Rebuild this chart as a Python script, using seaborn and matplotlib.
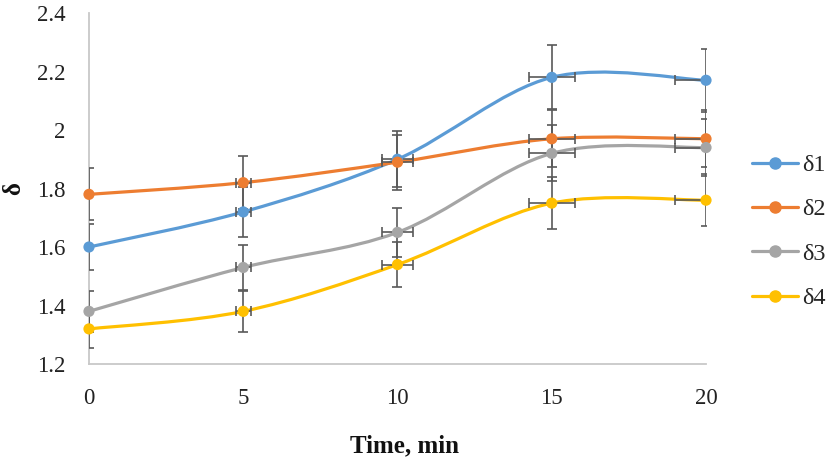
import numpy as np
import pandas as pd
import seaborn as sns
import matplotlib.pyplot as plt
from matplotlib.path import Path
from matplotlib.patches import PathPatch
from matplotlib.lines import Line2D

time_min = [0, 5, 10, 15, 20]
series_names = ['δ1', 'δ2', 'δ3', 'δ4']
d1 = [1.60, 1.72, 1.90, 2.18, 2.17]
d2 = [1.78, 1.82, 1.89, 1.97, 1.97]
d3 = [1.38, 1.53, 1.65, 1.92, 1.94]
d4 = [1.32, 1.38, 1.54, 1.75, 1.76]
d1_err = [0.08, 0.086, 0.095, 0.109, 0.108]
d2_err = [0.089, 0.091, 0.094, 0.098, 0.098]
d3_err = [0.069, 0.077, 0.083, 0.096, 0.097]
d4_err = [0.066, 0.069, 0.077, 0.088, 0.088]
time_err = [0, 0.25, 0.5, 0.75, 1.0]

colors = ['#5B9BD5', '#ED7D31', '#A5A5A5', '#FFC000']


def smooth_path(xs, ys):
    # excel-style smoothed line: cubic bezier segments through the points
    pts = np.column_stack([xs, ys]).astype(float)
    n = len(pts)
    verts = [pts[0]]
    codes = [Path.MOVETO]
    for i in range(n - 1):
        p_prev = pts[i - 1] if i > 0 else pts[i]
        p_next = pts[i + 2] if i + 2 < n else pts[i + 1]
        c1 = pts[i] + (pts[i + 1] - p_prev) / 6
        c2 = pts[i + 1] - (p_next - pts[i]) / 6
        verts += [c1, c2, pts[i + 1]]
        codes += [Path.CURVE4] * 3
    return Path(verts, codes)


sns.set_theme(style='white')
plt.rcParams['font.family'] = ['Liberation Serif', 'DejaVu Serif']

df = pd.DataFrame({
    'Time': time_min * 4,
    'value': d1 + d2 + d3 + d4,
    'series': [s for s in series_names for _ in time_min],
})

fig = plt.figure(figsize=(8.27, 4.61), dpi=100)
ax = fig.add_axes([0.1076, 0.2104, 0.7461, 0.7614])

values = [d1, d2, d3, d4]
errs = [d1_err, d2_err, d3_err, d4_err]
for vals, err, col in zip(values, errs, colors):
    ax.add_patch(PathPatch(smooth_path(time_min, vals), fill=False,
                           edgecolor=col, lw=2.3, zorder=2, capstyle='round'))
    ax.errorbar(time_min, vals, yerr=err, xerr=time_err, fmt='none',
                ecolor='#595959', elinewidth=1.2, capsize=3.5, capthick=1.2,
                zorder=3)

sns.scatterplot(data=df, x='Time', y='value', hue='series', palette=colors,
                s=65, edgecolor='none', legend=False, ax=ax, zorder=4,
                clip_on=False)

ax.set_xlim(0, 20)
ax.set_ylim(1.2, 2.4)
ax.set_xticks([0, 5, 10, 15, 20])
ax.set_yticks([1.2, 1.4, 1.6, 1.8, 2.0, 2.2, 2.4])
ax.set_yticklabels(['1.2', '1.4', '1.6', '1.8', '2', '2.2', '2.4'])
ax.tick_params(axis='both', length=0, labelsize=16.5, colors='#222222')
ax.tick_params(axis='y', pad=17)
ax.tick_params(axis='x', pad=17)

for side in ['top', 'right']:
    ax.spines[side].set_visible(False)
for side in ['left', 'bottom']:
    ax.spines[side].set_color('#C8C8C8')
    ax.spines[side].set_linewidth(1.3)

ax.set_xlabel('Time, min', fontsize=18, fontweight='bold', color='#111111')
ax.set_ylabel('δ', fontsize=18, fontweight='bold', color='#111111')
ax.xaxis.set_label_coords(0.512, -0.2)
ax.yaxis.set_label_coords(-0.103, 0.5)

handles = [Line2D([0], [0], color=c, lw=2.3, marker='o', markersize=8)
           for c in colors]
ax.legend(handles, series_names, loc='center left',
          bbox_to_anchor=(1.075, 0.377), frameon=False, fontsize=17.5,
          handlelength=1.9, handletextpad=0.15, labelspacing=0.92,
          borderpad=0, borderaxespad=0)

fig.savefig('out.png', dpi=100)
